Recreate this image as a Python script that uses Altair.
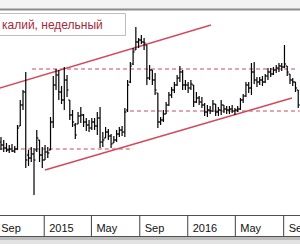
import altair as alt
import pandas as pd

# ---- weekly OHLC readings (arbitrary price units) ----
week_start = "2014-09-13"
high = [113,110,107,105,106,104,125,150,160,178,
        100,103,102,120,110,103,105,103,133,174,
        181,180,164,183,175,150,140,127,138,143,
        136,132,130,132,132,138,143,118,123,121,
        116,114,120,123,124,142,170,188,202,223,
        212,215,212,205,185,180,177,157,133,140,
        148,158,163,168,175,184,180,170,168,170,
        165,158,154,153,147,145,144,150,146,143,
        150,145,144,144,145,142,144,152,156,168,
        168,187,188,173,173,174,176,182,182,183,
        185,187,187,205,184,176,172,168,160]
low = [100,98,98,97,98,97,100,124,140,82,
       84,88,55,98,88,82,90,92,100,122,
       160,150,146,140,153,130,123,111,126,127,
       123,119,118,120,120,115,102,103,112,110,
       102,107,108,113,114,113,138,167,185,200,
       202,206,200,165,170,165,155,122,125,128,
       136,144,152,157,164,168,160,160,157,160,
       143,147,145,142,134,133,136,138,134,134,
       135,137,136,136,137,135,138,140,147,153,
       157,155,166,163,165,164,167,170,173,175,
       177,178,179,182,174,166,164,158,142]
open_ = [108,105,102,100,101,99,101,124,145,158,
         95,92,96,100,110,95,90,98,100,128,
         165,175,158,150,170,150,135,125,126,134,
         135,128,125,122,128,124,132,108,112,118,
         114,107,110,116,120,118,140,168,186,200,
         208,210,208,205,172,180,170,157,128,130,
         136,145,155,160,165,172,178,165,165,162,
         165,148,152,148,145,138,140,139,146,138,
         140,145,141,140,141,139,140,141,150,154,
         165,162,178,170,168,170,168,174,178,176,
         180,182,184,183,184,176,170,168,160]
close = [105,102,100,101,99,101,122,145,158,90,
         92,96,90,112,95,90,98,97,128,165,
         175,158,150,170,160,135,128,115,134,135,
         128,125,122,128,124,132,108,110,118,114,
         106,110,116,120,118,138,165,184,198,208,
         210,208,207,172,180,170,160,128,130,136,
         145,155,160,165,172,178,165,165,162,166,
         148,152,148,145,138,140,139,146,138,140,
         145,141,140,141,139,140,141,150,154,165,
         162,178,170,168,170,168,174,178,176,180,
         182,184,183,186,178,170,168,162,145]

# ---- analyst lines ----
line_start = ["2014-09-10", "2015-01-03", "2014-12-01", "2015-08-07", "2014-09-10"]
line_end = ["2016-02-29", "2016-09-22", "2016-09-30", "2016-10-12", "2015-08-15"]
line_v1 = [162, 80, 181, 139, 101]
line_v2 = [225, 152, 181, 139, 101]
line_kind = ["solid", "solid", "dashed", "dashed", "dashed"]

# ---- axis labels ----
month_starts = ["2014-09-01", "2015-01-01", "2015-05-01", "2015-09-01",
                "2016-01-01", "2016-05-01", "2016-09-01"]
month_labels = ["Sep", "2015", "May", "Sep", "2016", "May", "Sep"]

title_text = "калий, недельный"

dates = pd.date_range(week_start, periods=len(high), freq="7D")
ohlc = pd.DataFrame({"date": dates, "high": high, "low": low,
                     "open": open_, "close": close})
lines = pd.DataFrame({"d1": pd.to_datetime(line_start), "d2": pd.to_datetime(line_end),
                      "v1": line_v1, "v2": line_v2, "kind": line_kind})
axis_df = pd.DataFrame({"date": pd.to_datetime(month_starts), "label": month_labels})

xscale = alt.Scale(domain=[alt.DateTime(year=2014, month=9, date=10, hours=12),
                           alt.DateTime(year=2016, month=10, date=12, hours=12)])
yscale = alt.Scale(domain=[0, 250])

def X(field):
    return alt.X(f"{field}:T", scale=xscale, axis=None, title=None)

def X2(field):
    return alt.X2(f"{field}:T")

def Y(field):
    return alt.Y(f"{field}:Q", scale=yscale, axis=None, title=None)

dummy = alt.Data(values=[{"a": 1}])

top_band = alt.Chart(dummy).mark_rect(color="#f3f3f3").encode(
    x=alt.value(0), x2=alt.value(300), y=alt.value(0), y2=alt.value(9))
top_line = alt.Chart(dummy).mark_rule(color="#8c8c8c", strokeWidth=2).encode(
    x=alt.value(0), x2=alt.value(300), y=alt.value(9.5))

legend_box = alt.Chart(dummy).mark_rect(fill="white", stroke="#bdbdbd", strokeWidth=1).encode(
    x=alt.value(-2), x2=alt.value(125.5), y=alt.value(13.5), y2=alt.value(35.5))
legend_text = alt.Chart(dummy).mark_text(
    text=title_text, align="left", baseline="middle", font="Liberation Sans",
    fontSize=12, color="#a3293a").encode(x=alt.value(2), y=alt.value(25))

base = alt.Chart(ohlc)
hl = base.mark_rule(color="#000000", strokeWidth=1.2).encode(
    x=X("date"), y=Y("high"), y2=alt.Y2("low:Q"))
op = base.mark_rule(color="#000000", strokeWidth=1.2, xOffset=-1.6, x2Offset=0).encode(
    x=X("date"), x2=X2("date"), y=Y("open"))
cl = base.mark_rule(color="#000000", strokeWidth=1.2, xOffset=0, x2Offset=1.6).encode(
    x=X("date"), x2=X2("date"), y=Y("close"))

solid = alt.Chart(lines).transform_filter("datum.kind == 'solid'").mark_rule(
    color="#d24a5a", strokeWidth=1.4).encode(
    x=X("d1"), x2=X2("d2"), y=Y("v1"), y2=alt.Y2("v2:Q"))
dashed = alt.Chart(lines).transform_filter("datum.kind == 'dashed'").mark_rule(
    color="#c24e5c", strokeWidth=1.1, strokeDash=[4, 3]).encode(
    x=X("d1"), x2=X2("d2"), y=Y("v1"), y2=alt.Y2("v2:Q"))

axis_bg = alt.Chart(dummy).mark_rect(fill="white").encode(
    x=alt.value(0), x2=alt.value(300), y=alt.value(215), y2=alt.value(236))
shadow1 = alt.Chart(dummy).mark_rect(fill="#bdbdbd").encode(
    x=alt.value(0), x2=alt.value(300), y=alt.value(237), y2=alt.value(240))
shadow2 = alt.Chart(dummy).mark_rect(fill="#e2e2e2").encode(
    x=alt.value(0), x2=alt.value(300), y=alt.value(240), y2=alt.value(244))
axis_top = alt.Chart(dummy).mark_rule(color="#505050", strokeWidth=1).encode(
    x=alt.value(0), x2=alt.value(300), y=alt.value(215.5))
axis_bot = alt.Chart(dummy).mark_rule(color="#505050", strokeWidth=1).encode(
    x=alt.value(0), x2=alt.value(300), y=alt.value(236.5))
seps = alt.Chart(axis_df).mark_rule(color="#404040", strokeWidth=1).encode(
    x=X("date"), y=alt.value(215), y2=alt.value(236))
labels = alt.Chart(axis_df).mark_text(
    align="left", baseline="alphabetic", font="Liberation Sans", fontSize=11,
    color="#111111", dx=5).encode(x=X("date"), y=alt.value(232), text="label:N")

chart = alt.layer(
    top_band, top_line, solid, dashed, hl, op, cl,
    legend_box, legend_text,
    axis_bg, shadow1, shadow2, axis_top, axis_bot, seps, labels
).properties(
    width=300, height=250,
    autosize=alt.AutoSizeParams(type="none"),
    padding=0,
    background="white"
).configure_view(stroke=None)

chart.save("out.html", embed_options={"renderer": "svg", "actions": False})
